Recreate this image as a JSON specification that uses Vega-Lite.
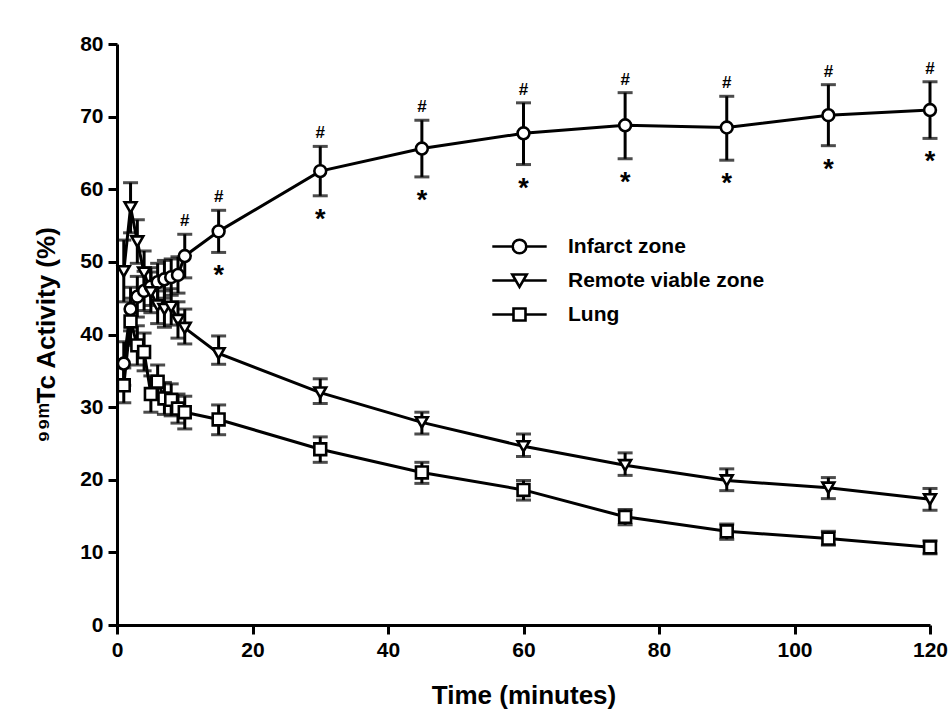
{
  "$schema": "https://vega.github.io/schema/vega-lite/v6.json",
  "width": 813,
  "height": 581,
  "padding": {"left": 33, "top": 33, "right": 5, "bottom": 5},
  "background": "white",
  "config": {
    "view": {"stroke": null},
    "font": "Liberation Sans",
    "axis": {
      "domainColor": "black", "domainWidth": 3, "tickColor": "black", "tickWidth": 3, "tickSize": 9,
      "labelFont": "Liberation Sans", "labelFontWeight": "bold", "labelFontSize": 21, "labelColor": "black",
      "titleFont": "Liberation Sans", "titleFontWeight": "bold", "titleFontSize": 26, "titleColor": "black",
      "grid": false
    }
  },
  "data": {
    "values": [
      {"series": "Infarct zone", "t": 1, "v": 36.0, "lo": 33.0, "hi": 39.0, "hash": "", "star": ""},
      {"series": "Infarct zone", "t": 2, "v": 43.5, "lo": 40.5, "hi": 46.5, "hash": "", "star": ""},
      {"series": "Infarct zone", "t": 3, "v": 45.2, "lo": 42.4, "hi": 48.0, "hash": "", "star": ""},
      {"series": "Infarct zone", "t": 4, "v": 46.0, "lo": 43.3, "hi": 48.7, "hash": "", "star": ""},
      {"series": "Infarct zone", "t": 5, "v": 46.6, "lo": 44.0, "hi": 49.2, "hash": "", "star": ""},
      {"series": "Infarct zone", "t": 6, "v": 47.2, "lo": 44.6, "hi": 49.8, "hash": "", "star": ""},
      {"series": "Infarct zone", "t": 7, "v": 47.6, "lo": 45.0, "hi": 50.2, "hash": "", "star": ""},
      {"series": "Infarct zone", "t": 8, "v": 47.9, "lo": 45.4, "hi": 50.4, "hash": "", "star": ""},
      {"series": "Infarct zone", "t": 9, "v": 48.2, "lo": 45.7, "hi": 50.7, "hash": "", "star": ""},
      {"series": "Infarct zone", "t": 10, "v": 50.8, "lo": 47.8, "hi": 53.8, "hash": "#", "star": ""},
      {"series": "Infarct zone", "t": 15, "v": 54.2, "lo": 51.3, "hi": 57.1, "hash": "#", "star": "*"},
      {"series": "Infarct zone", "t": 30, "v": 62.5, "lo": 59.1, "hi": 65.9, "hash": "#", "star": "*"},
      {"series": "Infarct zone", "t": 45, "v": 65.6, "lo": 61.7, "hi": 69.5, "hash": "#", "star": "*"},
      {"series": "Infarct zone", "t": 60, "v": 67.7, "lo": 63.4, "hi": 71.9, "hash": "#", "star": "*"},
      {"series": "Infarct zone", "t": 75, "v": 68.8, "lo": 64.2, "hi": 73.3, "hash": "#", "star": "*"},
      {"series": "Infarct zone", "t": 90, "v": 68.5, "lo": 64.0, "hi": 72.8, "hash": "#", "star": "*"},
      {"series": "Infarct zone", "t": 105, "v": 70.2, "lo": 66.0, "hi": 74.4, "hash": "#", "star": "*"},
      {"series": "Infarct zone", "t": 120, "v": 70.9, "lo": 67.0, "hi": 74.8, "hash": "#", "star": "*"},
      {"series": "Remote viable zone", "t": 1, "v": 48.7, "lo": 44.5, "hi": 53.0, "hash": "", "star": ""},
      {"series": "Remote viable zone", "t": 2, "v": 57.5, "lo": 54.0, "hi": 60.9, "hash": "", "star": ""},
      {"series": "Remote viable zone", "t": 3, "v": 52.8, "lo": 49.8, "hi": 55.8, "hash": "", "star": ""},
      {"series": "Remote viable zone", "t": 4, "v": 48.5, "lo": 45.5, "hi": 51.5, "hash": "", "star": ""},
      {"series": "Remote viable zone", "t": 5, "v": 45.8, "lo": 43.0, "hi": 48.6, "hash": "", "star": ""},
      {"series": "Remote viable zone", "t": 6, "v": 44.0, "lo": 41.5, "hi": 46.5, "hash": "", "star": ""},
      {"series": "Remote viable zone", "t": 7, "v": 43.5, "lo": 41.0, "hi": 46.0, "hash": "", "star": ""},
      {"series": "Remote viable zone", "t": 8, "v": 43.8, "lo": 41.3, "hi": 46.3, "hash": "", "star": ""},
      {"series": "Remote viable zone", "t": 9, "v": 42.0, "lo": 39.5, "hi": 44.5, "hash": "", "star": ""},
      {"series": "Remote viable zone", "t": 10, "v": 40.9, "lo": 38.7, "hi": 43.5, "hash": "", "star": ""},
      {"series": "Remote viable zone", "t": 15, "v": 37.4, "lo": 35.9, "hi": 39.8, "hash": "", "star": ""},
      {"series": "Remote viable zone", "t": 30, "v": 32.0, "lo": 30.5, "hi": 33.9, "hash": "", "star": ""},
      {"series": "Remote viable zone", "t": 45, "v": 27.9, "lo": 26.3, "hi": 29.3, "hash": "", "star": ""},
      {"series": "Remote viable zone", "t": 60, "v": 24.6, "lo": 23.2, "hi": 26.3, "hash": "", "star": ""},
      {"series": "Remote viable zone", "t": 75, "v": 22.0, "lo": 20.6, "hi": 23.7, "hash": "", "star": ""},
      {"series": "Remote viable zone", "t": 90, "v": 19.9, "lo": 18.5, "hi": 21.5, "hash": "", "star": ""},
      {"series": "Remote viable zone", "t": 105, "v": 18.9, "lo": 17.4, "hi": 20.3, "hash": "", "star": ""},
      {"series": "Remote viable zone", "t": 120, "v": 17.3, "lo": 15.8, "hi": 18.8, "hash": "", "star": ""},
      {"series": "Lung", "t": 1, "v": 33.0, "lo": 30.6, "hi": 35.4, "hash": "", "star": ""},
      {"series": "Lung", "t": 2, "v": 41.8, "lo": 38.5, "hi": 45.0, "hash": "", "star": ""},
      {"series": "Lung", "t": 3, "v": 38.5, "lo": 35.8, "hi": 41.2, "hash": "", "star": ""},
      {"series": "Lung", "t": 4, "v": 37.6, "lo": 35.0, "hi": 40.2, "hash": "", "star": ""},
      {"series": "Lung", "t": 5, "v": 31.8, "lo": 29.3, "hi": 34.3, "hash": "", "star": ""},
      {"series": "Lung", "t": 6, "v": 33.5, "lo": 31.2, "hi": 35.8, "hash": "", "star": ""},
      {"series": "Lung", "t": 7, "v": 31.2, "lo": 29.0, "hi": 33.4, "hash": "", "star": ""},
      {"series": "Lung", "t": 8, "v": 31.0, "lo": 28.8, "hi": 33.2, "hash": "", "star": ""},
      {"series": "Lung", "t": 9, "v": 29.8, "lo": 27.8, "hi": 31.8, "hash": "", "star": ""},
      {"series": "Lung", "t": 10, "v": 29.3, "lo": 27.0, "hi": 31.5, "hash": "", "star": ""},
      {"series": "Lung", "t": 15, "v": 28.3, "lo": 26.2, "hi": 30.3, "hash": "", "star": ""},
      {"series": "Lung", "t": 30, "v": 24.2, "lo": 22.4, "hi": 25.9, "hash": "", "star": ""},
      {"series": "Lung", "t": 45, "v": 21.0, "lo": 19.5, "hi": 22.4, "hash": "", "star": ""},
      {"series": "Lung", "t": 60, "v": 18.6, "lo": 17.2, "hi": 19.9, "hash": "", "star": ""},
      {"series": "Lung", "t": 75, "v": 14.9, "lo": 13.8, "hi": 15.9, "hash": "", "star": ""},
      {"series": "Lung", "t": 90, "v": 12.9, "lo": 11.8, "hi": 13.9, "hash": "", "star": ""},
      {"series": "Lung", "t": 105, "v": 11.9, "lo": 11.0, "hi": 12.9, "hash": "", "star": ""},
      {"series": "Lung", "t": 120, "v": 10.7, "lo": 9.8, "hi": 11.6, "hash": "", "star": ""}
    ]
  },
  "encoding": {
    "x": {"field": "t", "type": "quantitative", "scale": {"domain": [0, 120], "nice": false},
      "axis": {"values": [0, 20, 40, 60, 80, 100, 120], "title": "Time (minutes)", "labelPadding": 5, "titlePadding": 22, "labelFlush": false}},
    "y": {"field": "v", "type": "quantitative", "scale": {"domain": [0, 80], "nice": false},
      "axis": {"values": [0, 10, 20, 30, 40, 50, 60, 70, 80], "title": "⁹⁹ᵐTc Activity (%)", "labelPadding": 5, "titlePadding": 20, "labelFlush": false}}
  },
  "layer": [
    {
      "mark": {"type": "line", "color": "black", "strokeWidth": 3},
      "encoding": {"detail": {"field": "series"}, "order": {"field": "t", "type": "quantitative"}}
    },
    {
      "mark": {"type": "rule", "color": "black", "strokeWidth": 3},
      "encoding": {"y": {"field": "lo", "type": "quantitative"}, "y2": {"field": "hi"}}
    },
    {
      "mark": {"type": "tick", "orient": "horizontal", "color": "black", "size": 15, "thickness": 3},
      "encoding": {"y": {"field": "lo", "type": "quantitative"}}
    },
    {
      "mark": {"type": "tick", "orient": "horizontal", "color": "black", "size": 15, "thickness": 3},
      "encoding": {"y": {"field": "hi", "type": "quantitative"}}
    },
    {
      "mark": {"type": "point", "filled": true, "fill": "white", "stroke": "black", "strokeWidth": 2.6, "size": 140, "opacity": 1},
      "encoding": {
        "shape": {"field": "series", "type": "nominal",
          "scale": {"domain": ["Infarct zone", "Remote viable zone", "Lung"], "range": ["circle", "triangle-down", "square"]},
          "legend": null}
      }
    },
    {
      "transform": [{"filter": "datum.t < 0"}],
      "mark": {"type": "point", "filled": false, "color": "black", "strokeWidth": 2.6, "opacity": 1},
      "encoding": {
        "shape": {"field": "series", "type": "nominal",
          "scale": {"domain": ["Infarct zone", "Remote viable zone", "Lung"],
            "range": [
              "M-3.4,0H-0.85M0.85,0H3.4M0.85,0A0.85,0.85 0 1 1 -0.85,0A0.85,0.85 0 1 1 0.85,0Z",
              "M-3.4,0H-0.46M0.46,0H3.4M-0.9,-0.75L0.9,-0.75L0,0.8Z",
              "M-3.4,0H-0.75M0.75,0H3.4M-0.75,-0.75H0.75V0.75H-0.75Z"
            ]},
          "legend": {"orient": "none", "legendX": 392, "legendY": 192, "title": null,
            "symbolSize": 256, "symbolStrokeWidth": 2.6, "symbolStrokeColor": "black", "symbolOpacity": 1,
            "labelFont": "Liberation Sans", "labelFontWeight": "bold", "labelFontSize": 21, "labelColor": "black", "labelLimit": 400,
            "labelOffset": 38, "rowPadding": 10}}
      }
    },
    {
      "transform": [{"filter": "datum.hash != ''"}],
      "mark": {"type": "text", "font": "Liberation Sans", "fontWeight": "bold", "fontSize": 17, "baseline": "alphabetic", "dy": -8, "color": "black"},
      "encoding": {"y": {"field": "hi", "type": "quantitative"}, "text": {"field": "hash"}}
    },
    {
      "transform": [{"filter": "datum.star != ''"}],
      "mark": {"type": "text", "font": "Liberation Sans", "fontWeight": "bold", "fontSize": 27, "baseline": "alphabetic", "dy": 32, "color": "black"},
      "encoding": {"y": {"field": "lo", "type": "quantitative"}, "text": {"field": "star"}}
    }
  ],
  "resolve": {"scale": {"shape": "independent"}}
}
